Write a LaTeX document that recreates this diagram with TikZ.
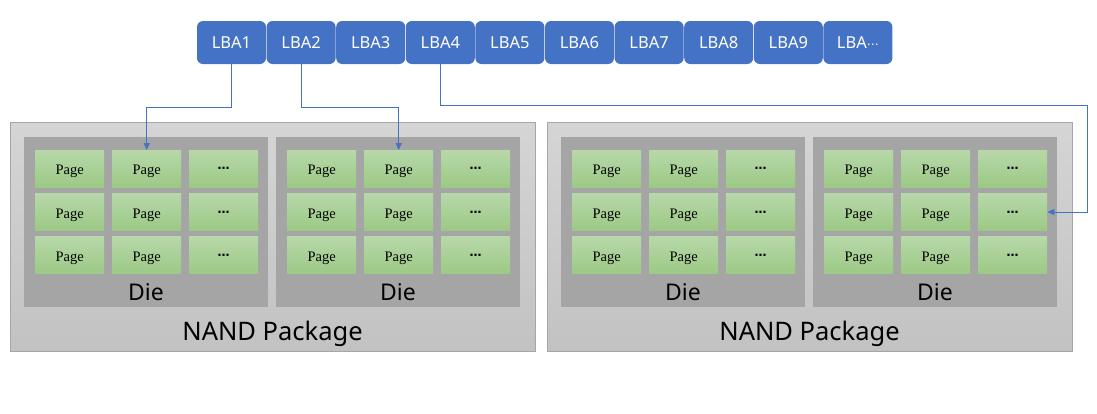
\documentclass[tikz,border=0pt]{standalone}
\usepackage{fontspec}
\setmainfont{Noto Sans}
\newfontfamily\pagefont{Liberation Serif}
\newfontfamily\symfont{DejaVu Sans}
\usetikzlibrary{arrows.meta}
\definecolor{lbablue}{HTML}{4472C4}
\definecolor{pgtop}{HTML}{B7D8A9}
\definecolor{pgbot}{HTML}{9CC985}
\definecolor{pkgtop}{HTML}{D5D5D5}
\definecolor{pkgbot}{HTML}{C2C2C2}
\definecolor{pkgline}{HTML}{A6A6A6}
\definecolor{diefill}{HTML}{A5A5A5}
\tikzset{
  lbabox/.style={fill=lbablue, draw=none, rounded corners=6pt, minimum width=69pt, minimum height=43pt, inner sep=0pt, text=white, font=\fontsize{16.5}{19}\selectfont},
  pkgbox/.style={draw=pkgline, line width=0.8pt, top color=pkgtop, bottom color=pkgbot, minimum width=525pt, minimum height=229pt, inner sep=0pt},
  diebox/.style={fill=diefill, draw=none, minimum width=244pt, minimum height=170pt, inner sep=0pt},
  pagebox/.style={draw=none, top color=pgtop, bottom color=pgbot, minimum width=69pt, minimum height=37pt, inner sep=0pt, font=\pagefont\fontsize{14.5}{16}\selectfont},
  pagetext/.style={text height=13pt, text depth=1pt},
  dotstext/.style={text height=11pt, text depth=3pt},
  dielabel/.style={font=\fontsize{23}{26}\selectfont, inner sep=0pt, anchor=base},
  pkglabel/.style={font=\fontsize{25.5}{29}\selectfont, inner sep=0pt, anchor=base},
  conn/.style={draw=lbablue, line width=0.8pt, -{Triangle[length=7pt,width=6pt]}}
}
\begin{document}
\begin{tikzpicture}[x=1pt,y=-1pt]
\useasboundingbox[fill=white] (0,0) rectangle (1097,413);
% packages
\foreach \p/\px in {1/10,2/547}{
  \node[pkgbox, anchor=north west] (pkg\p) at (\px,122) {};
  \node[pkglabel] (pkglab\p) at ({\px+262.5},340) {NAND Package};
}
% dies and pages
\foreach \p/\d/\dx in {1/1/24,1/2/276,2/1/561,2/2/813}{
  \node[diebox, anchor=north west] (die\p\d) at (\dx,137) {};
  \node[dielabel] (dielab\p\d) at ({\dx+122},300) {Die};
  \foreach \r in {0,1,2}{
    \foreach \c/\t/\s in {0/Page/pagetext,1/Page/pagetext,2/{{\symfont\bfseries\fontsize{12}{12}\selectfont ⋯}}/dotstext}{
      \node[pagebox, \s, anchor=north west] (page\p\d\r\c) at ({\dx+11+\c*77},{150+\r*43.3}) {\t};
    }
  }
}
% LBA boxes
\foreach \t [count=\k] in {LBA1,LBA2,LBA3,LBA4,LBA5,LBA6,LBA7,LBA8,LBA9,{LBA{\symfont\fontsize{12}{12}\selectfont ⋯}}}{
  \node[lbabox] (lba\k) at ({197+34.5+(\k-1)*69.6},42.5) {\t};
}
% connectors
\draw[conn] (lba1.south) -- ++(0,43) -| (page1101.north);
\draw[conn] (lba2.south) -- ++(0,43) -| (page1201.north);
\coordinate (rturn) at (1087,105);
\draw[conn] (lba4.south) |- (rturn) |- (page2212.east);
\end{tikzpicture}
\end{document}
